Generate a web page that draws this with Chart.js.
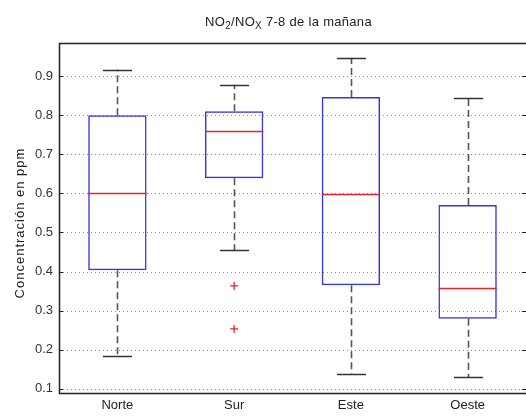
<!DOCTYPE html>
<html>
<head>
<meta charset="utf-8">
<script src="https://cdn.jsdelivr.net/npm/chart.js@4"></script>
<style>
  html, body { margin: 0; padding: 0; background: #fff; }
  #wrap { width: 526px; height: 418px; }
</style>
</head>
<body>
<div id="wrap"><canvas id="myChart" width="526" height="418"></canvas></div>
<script>
const categories = ['Norte', 'Sur', 'Este', 'Oeste'];
const q1 = [0.403, 0.639, 0.365, 0.279];
const q3 = [0.800, 0.810, 0.847, 0.570];
const medians = [0.600, 0.760, 0.598, 0.359];
const whiskerLow = [0.185, 0.455, 0.138, 0.129];
const whiskerHigh = [0.917, 0.878, 0.947, 0.845];
const outlierCats = ['Sur', 'Sur'];
const outlierVals = [0.363, 0.253];
const yTicks = [0.1, 0.2, 0.3, 0.4, 0.5, 0.6, 0.7, 0.8, 0.9];

const FONT = '"Liberation Sans", Arial, sans-serif';

// whiskers, caps, medians, grid and frame like matlab boxplot
const boxPlugin = {
    id: 'boxPlugin',
    beforeDatasetsDraw(chart) {
        const ctx = chart.ctx;
        const a = chart.chartArea;
        const x = chart.scales.x, y = chart.scales.y;
        const catW = x.getPixelForValue(1) - x.getPixelForValue(0);
        ctx.save();
        // dotted grid
        ctx.strokeStyle = '#8a8a8a';
        ctx.lineWidth = 1;
        ctx.setLineDash([1, 3]);
        yTicks.forEach(v => {
            const py = Math.round(y.getPixelForValue(v)) + 0.5;
            ctx.beginPath();
            ctx.moveTo(a.left, py);
            ctx.lineTo(a.right, py);
            ctx.stroke();
        });
        ctx.setLineDash([]);
        // tick marks
        ctx.strokeStyle = '#222';
        yTicks.forEach(v => {
            const py = Math.round(y.getPixelForValue(v)) + 0.5;
            ctx.beginPath();
            ctx.moveTo(a.left, py); ctx.lineTo(a.left + 4, py);
            ctx.moveTo(a.right, py); ctx.lineTo(a.right - 4, py);
            ctx.stroke();
        });
        // whiskers
        categories.forEach((c, i) => {
            const px = Math.round(x.getPixelForValue(i)) + 0.5;
            ctx.strokeStyle = '#555';
            ctx.lineWidth = 1.6;
            ctx.setLineDash([7, 4]);
            ctx.beginPath();
            ctx.moveTo(px, y.getPixelForValue(q3[i]));
            ctx.lineTo(px, y.getPixelForValue(whiskerHigh[i]));
            ctx.moveTo(px, y.getPixelForValue(q1[i]));
            ctx.lineTo(px, y.getPixelForValue(whiskerLow[i]));
            ctx.stroke();
            ctx.setLineDash([]);
            ctx.strokeStyle = '#333';
            ctx.lineWidth = 1.5;
            const half = catW * 0.125;
            [whiskerHigh[i], whiskerLow[i]].forEach(v => {
                const py = Math.round(y.getPixelForValue(v)) + 0.5;
                ctx.beginPath();
                ctx.moveTo(px - half, py);
                ctx.lineTo(px + half, py);
                ctx.stroke();
            });
        });
        ctx.restore();
    },
    afterDatasetsDraw(chart) {
        const ctx = chart.ctx;
        const a = chart.chartArea;
        const x = chart.scales.x, y = chart.scales.y;
        const catW = x.getPixelForValue(1) - x.getPixelForValue(0);
        ctx.save();
        ctx.strokeStyle = '#e8262a';
        ctx.lineWidth = 1.5;
        categories.forEach((c, i) => {
            const px = x.getPixelForValue(i);
            const py = Math.round(y.getPixelForValue(medians[i])) + 0.5;
            ctx.beginPath();
            ctx.moveTo(px - catW * 0.25, py);
            ctx.lineTo(px + catW * 0.25, py);
            ctx.stroke();
        });
        // frame (right side sits just past the canvas edge, as in the original crop)
        ctx.strokeStyle = '#222';
        ctx.lineWidth = 1.5;
        ctx.strokeRect(a.left + 0.5, a.top + 0.5, a.right - a.left + 2, a.bottom - a.top);
        // title with subscripts
        const cx = (a.left + a.right) / 2;
        const parts = [
            ['NO', 13, 0], ['2', 10, 3], ['/NO', 13, 0], ['X', 10, 3], [' 7-8 de la ma\u00f1ana', 13, 0]
        ];
        ctx.letterSpacing = '0.3px';
        let total = 0;
        parts.forEach(p => { ctx.font = p[1] + 'px ' + FONT; total += ctx.measureText(p[0]).width; });
        let tx = cx - total / 2 - 4;
        ctx.fillStyle = '#222';
        ctx.textBaseline = 'alphabetic';
        ctx.textAlign = 'left';
        parts.forEach(p => {
            ctx.font = p[1] + 'px ' + FONT;
            ctx.fillText(p[0], tx, 26 + p[2]);
            tx += ctx.measureText(p[0]).width;
        });
        // y axis title
        ctx.letterSpacing = '1px';
        ctx.translate(20, 223);
        ctx.rotate(-Math.PI / 2);
        ctx.font = '13px ' + FONT;
        ctx.textAlign = 'center';
        ctx.textBaseline = 'middle';
        ctx.fillText('Concentraci\u00f3n en ppm', 0, 0);
        ctx.restore();
    }
};

window.onload = () => {
    const ctx = document.getElementById('myChart').getContext('2d');
    new Chart(ctx, {
        type: 'bar',
        data: {
            labels: categories,
            datasets: [
                {
                    data: categories.map((c, i) => [q1[i], q3[i]]),
                    backgroundColor: 'rgba(0,0,0,0)',
                    borderColor: '#3535e8',
                    borderWidth: 1.5,
                    borderSkipped: false,
                    barPercentage: 0.5,
                    categoryPercentage: 1.0
                },
                {
                    type: 'line',
                    data: outlierCats.map((c, i) => ({ x: c, y: outlierVals[i] })),
                    showLine: false,
                    pointStyle: 'cross',
                    pointRadius: 4,
                    borderColor: '#e8262a',
                    backgroundColor: '#e8262a',
                    borderWidth: 1.3
                }
            ]
        },
        options: {
            responsive: false,
            animation: false,
            layout: { autoPadding: false, padding: { top: 43, right: -1, left: 0, bottom: 0 } },
            plugins: {
                legend: { display: false },
                tooltip: { enabled: false }
            },
            scales: {
                x: {
                    offset: true,
                    grid: { display: false, drawTicks: false },
                    border: { display: false },
                    afterFit: s => { s.height = 25; s.paddingLeft = 0; s.paddingRight = 0; },
                    ticks: {
                        padding: 5,
                        color: '#222',
                        font: { family: FONT, size: 13 }
                    }
                },
                y: {
                    min: 0.089,
                    max: 0.985,
                    grid: { display: false, drawTicks: false },
                    border: { display: false },
                    afterFit: s => { s.width = 59; },
                    afterBuildTicks: s => { s.ticks = yTicks.map(v => ({ value: v })); },
                    ticks: {
                        padding: 6,
                        color: '#333',
                        font: { family: FONT, size: 13 },
                        callback: v => v.toFixed(1)
                    }
                }
            }
        },
        plugins: [boxPlugin]
    });
};
</script>
</body>
</html>
